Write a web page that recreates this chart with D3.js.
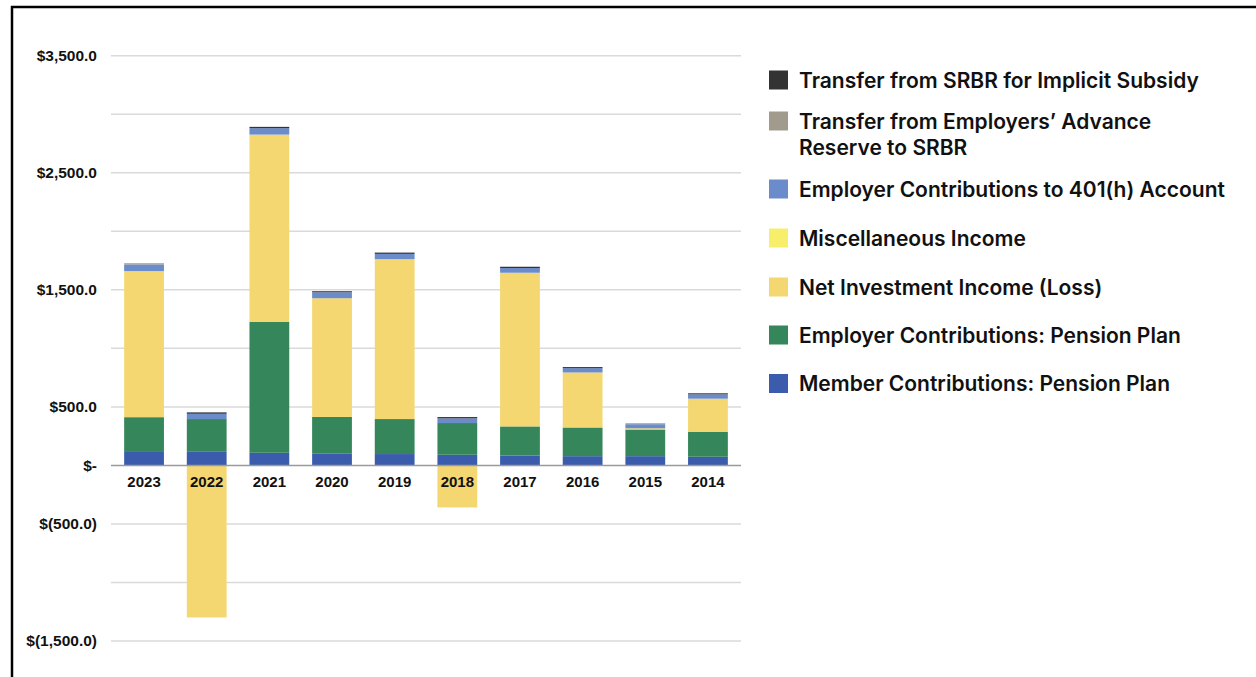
<!DOCTYPE html>
<html lang="en">
<head>
<meta charset="utf-8">
<title>Pension Fund Additions</title>
<script src="https://cdn.jsdelivr.net/npm/d3@7"></script>
<style>
  body { margin: 0; background: #fff; }
  svg { display: block; font-family: Inter, "Open Sans", sans-serif; }
  .grid line { stroke: #dadada; stroke-width: 1.5; }
  .ylab text { font-size: 15.5px; font-weight: 700; fill: #111; }
  .xlab text { font-size: 15px; font-weight: 600; fill: #111; }
  .legend text { font-size: 21px; font-weight: 600; fill: #111; }
</style>
</head>
<body>
<div id="chart"></div>
<script>
// fiscal years, left to right
var years = ["2023", "2022", "2021", "2020", "2019", "2018", "2017", "2016", "2015", "2014"];

// values in $ millions
var memberContrib   = [122, 116, 108, 103, 97, 91, 85, 79, 79, 74];
var employerContrib = [290, 280, 1117, 311, 299, 271, 248, 245, 228, 214];
var netInvestment   = [1248, -1299, 1601, 1014, 1366, -359, 1313, 470, 10, 282];
var miscIncome      = [0, 0, 0, 0, 0, 0, 0, 0, 0, 0];
var contrib401h     = [57, 45, 55, 51, 45, 40, 40, 37, 35, 37];
var advanceReserve  = [10, 0, 0, 0, 0, 0, 0, 0, 8, 0];
var srbrTransfer    = [0, 12, 11, 9, 11, 11, 11, 9, 0, 9];

var seriesNames = [
  "Member Contributions: Pension Plan",
  "Employer Contributions: Pension Plan",
  "Net Investment Income (Loss)",
  "Miscellaneous Income",
  "Employer Contributions to 401(h) Account",
  "Transfer from Employers\u2019 Advance Reserve to SRBR",
  "Transfer from SRBR for Implicit Subsidy"
];
var seriesColors = ["#3b5cad", "#35865a", "#f4d770", "#f7ef6b", "#6a8ccb", "#a19b8e", "#333333"];

var yTicks = [3500, 2500, 1500, 500, 0, -500, -1500];

var width = 1256, height = 677;

var svg = d3.select("#chart").append("svg")
  .attr("width", width)
  .attr("height", height);

// frame: top and left edges
svg.append("line").attr("x1", 11).attr("x2", width).attr("y1", 7).attr("y2", 7)
  .attr("stroke", "#000").attr("stroke-width", 2.5);
svg.append("line").attr("x1", 12).attr("x2", 12).attr("y1", 6).attr("y2", height)
  .attr("stroke", "#000").attr("stroke-width", 2.5);

var rows = years.map(function (yr, i) {
  return {
    year: yr,
    s0: memberContrib[i], s1: employerContrib[i], s2: netInvestment[i], s3: miscIncome[i],
    s4: contrib401h[i], s5: advanceReserve[i], s6: srbrTransfer[i]
  };
});
var keys = ["s0", "s1", "s2", "s3", "s4", "s5", "s6"];

var x = d3.scaleBand()
  .domain(years)
  .range([111, 741])
  .paddingInner(0.365)
  .paddingOuter(0.21);

var y = d3.scaleLinear()
  .domain([-1500, 3500])
  .range([641, 55.7]);

// gridlines
svg.append("g").attr("class", "grid")
  .selectAll("line")
  .data(d3.range(-1500, 3501, 500).filter(function (v) { return v !== 0; }))
  .enter().append("line")
  .attr("x1", 111).attr("x2", 741)
  .attr("y1", function (d) { return y(d); })
  .attr("y2", function (d) { return y(d); });

var stack = d3.stack().keys(keys).offset(d3.stackOffsetDiverging);
var layers = stack(rows);

svg.append("g").selectAll("g")
  .data(layers)
  .enter().append("g")
  .attr("fill", function (d, i) { return seriesColors[i]; })
  .selectAll("rect")
  .data(function (d) { return d; })
  .enter().append("rect")
  .attr("x", function (d) { return x(d.data.year); })
  .attr("width", x.bandwidth())
  .attr("y", function (d) { return y(Math.max(d[0], d[1])); })
  .attr("height", function (d) { return Math.abs(y(d[0]) - y(d[1])); });

// zero line
svg.append("line")
  .attr("x1", 111).attr("x2", 741)
  .attr("y1", y(0)).attr("y2", y(0))
  .attr("stroke", "#9a9a9a").attr("stroke-width", 1.5);

// y labels, accounting style
var fmt = d3.format(",.1f");
var yAxis = d3.axisLeft(y)
  .tickValues(yTicks)
  .tickSize(0)
  .tickPadding(0)
  .tickFormat(function (d) {
    if (d === 0) return "$-";
    if (d < 0) return "$(" + fmt(-d) + ")";
    return "$" + fmt(d);
  });

var yg = svg.append("g").attr("class", "ylab")
  .attr("transform", "translate(97,0)")
  .call(yAxis);
yg.select(".domain").remove();
yg.selectAll("text").attr("font-family", null).attr("font-size", null).attr("dy", "0.3em");

// x labels
var xAxis = d3.axisBottom(x).tickSize(0).tickPadding(0);
var xg = svg.append("g").attr("class", "xlab")
  .attr("transform", "translate(0," + y(0) + ")")
  .call(xAxis);
xg.select(".domain").remove();
xg.selectAll("text").attr("font-family", null).attr("font-size", null).attr("dy", null).attr("y", 22);

// legend, top item is last series
var legendItems = [
  { i: 6, lines: ["Transfer from SRBR for Implicit Subsidy"], y: 80 },
  { i: 5, lines: ["Transfer from Employers\u2019 Advance", "Reserve to SRBR"], y: 121 },
  { i: 4, lines: ["Employer Contributions to 401(h) Account"], y: 189 },
  { i: 3, lines: ["Miscellaneous Income"], y: 238 },
  { i: 2, lines: ["Net Investment Income (Loss)"], y: 287 },
  { i: 1, lines: ["Employer Contributions: Pension Plan"], y: 335 },
  { i: 0, lines: ["Member Contributions: Pension Plan"], y: 383.5 }
];

var lg = svg.append("g").attr("class", "legend")
  .selectAll("g")
  .data(legendItems)
  .enter().append("g")
  .attr("transform", function (d) { return "translate(769," + d.y + ")"; });

lg.append("rect")
  .attr("x", 0).attr("y", -9.5)
  .attr("width", 19).attr("height", 19)
  .attr("fill", function (d) { return seriesColors[d.i]; });

lg.append("text")
  .attr("x", 30)
  .selectAll("tspan")
  .data(function (d) { return d.lines; })
  .enter().append("tspan")
  .attr("x", 30)
  .attr("y", function (d, j) { return j * 26.6; })
  .attr("dy", "0.36em")
  .text(function (d) { return d; });
</script>
</body>
</html>
